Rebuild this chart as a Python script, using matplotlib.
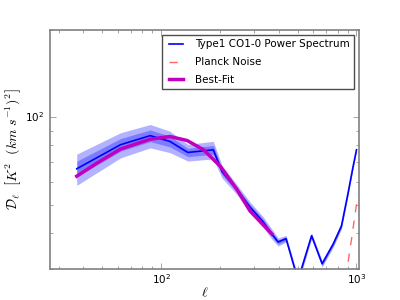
import numpy as np
import matplotlib
matplotlib.use('Agg')
import matplotlib.pyplot as plt

plt.style.use('classic')
plt.rcParams['mathtext.fontset'] = 'cm'

#%% Data
ell = [37, 62, 88, 111, 137, 185, 205, 244, 285, 334, 368, 397, 436, 502,
       589, 667, 760, 838, 906, 961, 1000]
dl = [66.5, 80.5, 86.5, 82.6, 75.7, 77.3, 65.0, 56.5, 49.1, 43.5, 39.7, 37.2,
      38.2, 27.5, 39.1, 31.3, 36.6, 42.3, 55.0, 67.8, 77.3]
dl_err = [4.1, 4.0, 4.0, 3.5, 2.5, 2.7, 1.6, 1.1, 1.0, 0.9, 0.8, 0.6, 0.5,
          0.4, 0.45, 0.4, 0.45, 0.5, 0.55, 0.55, 0.5]

ell_fit = [37, 47, 62, 88, 111, 136, 165, 201, 244, 285, 368]
dl_fit = [62.7, 69.6, 77.8, 84.1, 85.9, 83.2, 77.3, 67.8, 56.5, 47.6, 39.7]

ell_noise = [850, 900, 950, 1000]
dl_noise = [24.5, 30.8, 39.3, 50.2]

#%% Plot
ell = np.array(ell)
dl = np.array(dl)
dl_err = np.array(dl_err)

fig = plt.figure(figsize=(4, 3), dpi=100)
ax = fig.add_subplot(111)

ax.fill_between(ell, dl - 2*dl_err, dl + 2*dl_err, color='b', alpha=0.3, lw=0)
ax.fill_between(ell, dl - dl_err, dl + dl_err, color='b', alpha=0.3, lw=0)
ax.plot(ell, dl, color='b', lw=1.2, label='Type1 CO1-0 Power Spectrum')
ax.plot(ell_noise, dl_noise, color='r', ls='--', lw=1, alpha=0.6, label='Planck Noise')
ax.plot(ell_fit, dl_fit, color='m', lw=2.5, label='Best-Fit')

ax.set_xscale('log')
ax.set_yscale('log')
ax.set_xlim(27, 1030)
ax.set_ylim(30, 200)

ax.set_xlabel(r'$\ell$', fontsize=10, labelpad=0)
ax.set_ylabel(r'$\mathcal{D}_\ell\ \ \left[K^2\ \ (km\ s^{-1})^2\right]$', fontsize=10, labelpad=2)

for sp in ax.spines.values():
    sp.set_color('0.5')
    sp.set_linewidth(1.2)
ax.tick_params(which='both', colors='0.5', labelcolor='k', labelsize=7.5)
ax.tick_params(axis='x', which='both', pad=2)

leg = ax.legend(loc='upper right', fontsize=7.5, labelspacing=0.75)
leg.get_frame().set_edgecolor('0.3')

fig.subplots_adjust(left=0.125, right=0.8975, top=0.9, bottom=0.103)
fig.savefig('out.png', dpi=100)
